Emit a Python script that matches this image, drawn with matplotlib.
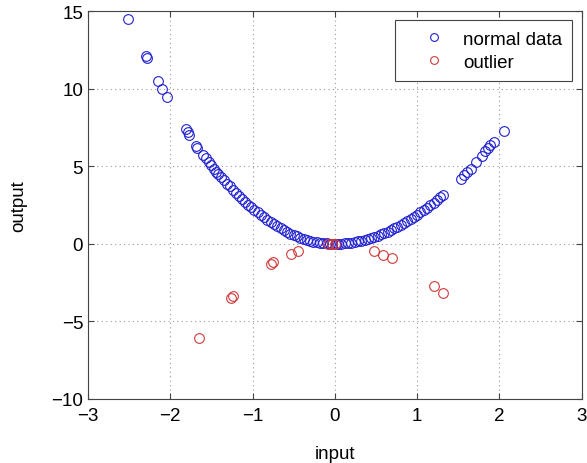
import matplotlib.pyplot as plt

plt.rcParams['font.family'] = ['Liberation Sans', 'DejaVu Sans']

# normal data
x_normal = [-2.51, -2.30, -2.28, -2.15, -2.10, -2.04, -1.81, -1.79, -1.77, -1.69,
            -1.68, -1.60, -1.57, -1.53, -1.50, -1.47, -1.44, -1.42, -1.38, -1.35,
            -1.31, -1.28, -1.24, -1.20, -1.17, -1.13, -1.09, -1.05, -1.02, -0.98,
            -0.94, -0.90, -0.86, -0.82, -0.78, -0.74, -0.70, -0.66, -0.62, -0.58,
            -0.54, -0.50, -0.46, -0.42, -0.38, -0.34, -0.30, -0.26, -0.22, -0.18,
            -0.14, -0.10, -0.06, -0.03, 0.01, 0.04, 0.08, 0.12, 0.16, 0.20,
            0.24, 0.28, 0.32, 0.36, 0.40, 0.44, 0.48, 0.52, 0.56, 0.60,
            0.64, 0.68, 0.72, 0.76, 0.80, 0.84, 0.88, 0.92, 0.96, 1.00,
            1.04, 1.08, 1.12, 1.16, 1.20, 1.24, 1.28, 1.31, 1.53, 1.57,
            1.60, 1.65, 1.72, 1.79, 1.83, 1.86, 1.89, 1.93, 2.05]
y_normal = [14.50, 12.10, 11.95, 10.50, 10.00, 9.45, 7.40, 7.20, 7.00, 6.30,
            6.20, 5.70, 5.50, 5.25, 5.05, 4.85, 4.65, 4.52, 4.28, 4.10,
            3.86, 3.70, 3.47, 3.25, 3.10, 2.90, 2.70, 2.50, 2.37, 2.19,
            2.03, 1.86, 1.70, 1.55, 1.40, 1.26, 1.12, 1.00, 0.88, 0.77,
            0.66, 0.57, 0.48, 0.39, 0.32, 0.25, 0.19, 0.14, 0.10, 0.07,
            0.04, 0.02, 0.01, 0.00, 0.00, 0.00, 0.01, 0.03, 0.05, 0.08,
            0.11, 0.15, 0.20, 0.25, 0.31, 0.38, 0.45, 0.52, 0.60, 0.69,
            0.79, 0.88, 0.99, 1.10, 1.21, 1.33, 1.46, 1.59, 1.73, 1.87,
            2.02, 2.17, 2.33, 2.49, 2.66, 2.83, 3.00, 3.14, 4.15, 4.45,
            4.60, 4.85, 5.30, 5.65, 5.95, 6.15, 6.35, 6.55, 7.30]

# outliers
x_out = [-1.65, -1.26, -1.24, -0.78, -0.75, -0.53, -0.45, -0.08, -0.04, 0.00,
         0.47, 0.58, 0.69, 1.21, 1.32]
y_out = [-6.07, -3.50, -3.35, -1.30, -1.17, -0.65, -0.46, 0.00, 0.00, 0.00,
         -0.46, -0.72, -0.92, -2.70, -3.16]

fig = plt.figure(figsize=(5.87, 4.64), dpi=100)
ax = fig.add_axes([0.150, 0.138, 0.841, 0.836])

ax.plot(x_normal, y_normal, 'o', mfc='none', mec='#2020d0', ms=7, mew=0.8,
        label='normal data')
ax.plot(x_out, y_out, 'o', mfc='none', mec='#d03a3a', ms=7, mew=0.8,
        label='outlier')

ax.set_xlim(-3, 3)
ax.set_ylim(-10, 15)
ax.set_xticks([-3, -2, -1, 0, 1, 2, 3])
ax.set_yticks([-10, -5, 0, 5, 10, 15])
ax.set_xticklabels(['\u22123', '\u22122', '\u22121', '0', '1', '2', '3'])
ax.set_yticklabels(['\u221210', '\u22125', '0', '5', '10', '15'])
ax.tick_params(direction='in', top=True, right=True, labelsize=13.5, length=4,
               color='#444444')
ax.tick_params(axis='x', pad=6)
ax.grid(True, linestyle=(0, (1, 3)), color='#999999', linewidth=0.8)
for s in ax.spines.values():
    s.set_color('#444444')

ax.set_xlabel('input', fontsize=13.5, labelpad=15)
ax.set_ylabel('output', fontsize=13.5, labelpad=17)

leg = ax.legend(loc='upper right', fontsize=13.5, fancybox=False,
                edgecolor='#444444', framealpha=1, borderaxespad=0.5,
                handlelength=3.0, handletextpad=0.05, borderpad=0.55,
                labelspacing=0.3, markerscale=0.8)
leg.get_frame().set_linewidth(0.8)

fig.savefig('out.png', dpi=100)
